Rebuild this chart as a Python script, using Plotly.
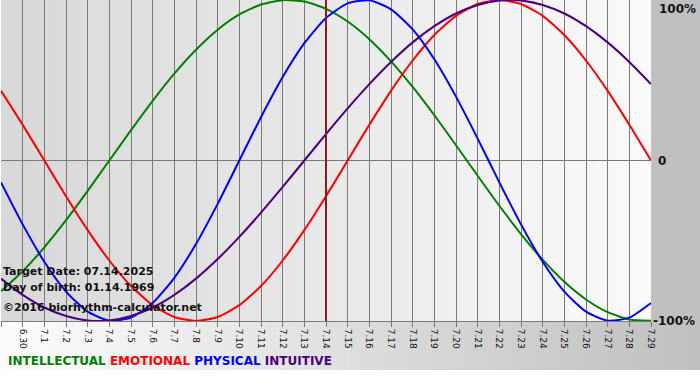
import plotly.graph_objects as go

# ---- data ----
dates = ["6.29", "6.30", "7.1", "7.2", "7.3", "7.4", "7.5", "7.6", "7.7", "7.8", "7.9",
         "7.10", "7.11", "7.12", "7.13", "7.14", "7.15", "7.16", "7.17", "7.18", "7.19",
         "7.20", "7.21", "7.22", "7.23", "7.24", "7.25", "7.26", "7.27", "7.28", "7.29"]

intellectual = [-0.815, -0.690, -0.541, -0.372, -0.189, 0.000, 0.189, 0.372, 0.541, 0.690,
                0.815, 0.910, 0.972, 0.999, 0.990, 0.945, 0.866, 0.756, 0.618, 0.458,
                0.282, 0.095, -0.095, -0.282, -0.458, -0.618, -0.756, -0.866, -0.945,
                -0.990, -0.999]
emotional = [0.434, 0.223, 0.000, -0.223, -0.434, -0.623, -0.782, -0.901, -0.975, -1.000,
             -0.975, -0.901, -0.782, -0.623, -0.434, -0.223, 0.000, 0.223, 0.434, 0.623,
             0.782, 0.901, 0.975, 1.000, 0.975, 0.901, 0.782, 0.623, 0.434, 0.223, 0.000]
physical = [-0.136, -0.398, -0.631, -0.817, -0.942, -0.998, -0.979, -0.888, -0.731, -0.520,
            -0.270, 0.000, 0.270, 0.520, 0.731, 0.888, 0.979, 0.998, 0.942, 0.817, 0.631,
            0.398, 0.136, -0.136, -0.398, -0.631, -0.817, -0.942, -0.998, -0.979, -0.888]
intuitive = [-0.736, -0.837, -0.916, -0.969, -0.997, -0.997, -0.969, -0.916, -0.837, -0.736,
             -0.614, -0.476, -0.325, -0.165, 0.000, 0.165, 0.325, 0.476, 0.614, 0.736,
             0.837, 0.916, 0.969, 0.997, 0.997, 0.969, 0.916, 0.837, 0.736, 0.614, 0.476]

target_label = "7.14"
target_text = "Target Date: 07.14.2025"
birth_text = "Day of birth: 01.14.1969"
copyright_text = "©2016 biorhythm-calculator.net"
y_labels = ["100%", "0", "-100%"]

series = [
    ("INTELLECTUAL", intellectual, "#008000"),
    ("EMOTIONAL", emotional, "#ff0000"),
    ("PHYSICAL", physical, "#0000ff"),
    ("INTUITIVE", intuitive, "#4b0082"),
]

# ---- figure ----
W, H = 700, 380
ML, MR, MT, MB = 1, 49, 0, 59
PW, PH = W - ML - MR, H - MT - MB

x = list(range(len(dates)))
fig = go.Figure()
for name, vals, col in series:
    fig.add_trace(go.Scatter(x=x, y=vals, mode="lines", name=name,
                             line=dict(color=col, width=2, shape="spline", smoothing=0.6),
                             hoverinfo="skip"))


def px2paper_x(px):
    return (px - ML) / PW


def px2paper_y(py):
    return 1 - (py - MT) / PH


def mix(c1, c2, t):
    return "rgb(%d,%d,%d)" % tuple(round(a + (b - a) * t) for a, b in zip(c1, c2))


shapes = []
# plot area gradient
N = 60
for i in range(N):
    t = i / (N - 1)
    shapes.append(dict(type="rect", xref="paper", yref="paper",
                       x0=i / N, x1=(i + 1) / N + 0.002, y0=0, y1=1,
                       fillcolor=mix((216, 216, 216), (250, 250, 250), t),
                       line=dict(width=0), layer="below"))
# bottom strip gradient
for i in range(N):
    t = i / (N - 1)
    x0 = px2paper_x(i * W / N)
    x1 = px2paper_x((i + 1) * W / N + 1)
    shapes.append(dict(type="rect", xref="paper", yref="paper",
                       x0=x0, x1=x1, y0=px2paper_y(370), y1=0,
                       fillcolor=mix((252, 252, 252), (192, 192, 192), t),
                       line=dict(width=0), layer="below"))
# right gray column
shapes.append(dict(type="rect", xref="paper", yref="paper",
                   x0=1, x1=px2paper_x(W + 2), y0=0, y1=1,
                   fillcolor="#c0c0c0", line=dict(width=0), layer="below"))
# target date line
ti = dates.index(target_label)
shapes.append(dict(type="line", xref="x", yref="paper", x0=ti, x1=ti, y0=0, y1=1,
                   line=dict(color="#8b1a1a", width=2), layer="above"))

annotations = []
txt_font = dict(family="DejaVu Sans", size=11, color="#111111")
for txt, py in [(target_text, 271), (birth_text, 287), (copyright_text, 307)]:
    annotations.append(dict(text="<b>%s</b>" % txt, xref="paper", yref="paper",
                            x=px2paper_x(1), y=px2paper_y(py), xanchor="left",
                            yanchor="middle", showarrow=False, font=txt_font))

legend_html = " ".join('<span style="color:%s">%s</span>' % (c, n) for n, _, c in series)
annotations.append(dict(text="<b>%s</b>" % legend_html, xref="paper", yref="paper",
                        x=px2paper_x(6), y=px2paper_y(361), xanchor="left",
                        yanchor="middle", showarrow=False,
                        font=dict(family="DejaVu Sans", size=12)))

for lab, yv, pxx in [(y_labels[0], 1, 657), (y_labels[1], 0, 656), (y_labels[2], -1, 651)]:
    annotations.append(dict(text="<b>%s</b>" % lab, xref="paper", yref="y",
                            x=px2paper_x(pxx), y=yv, xanchor="left",
                            yanchor="top" if yv == 1 else "middle", showarrow=False,
                            font=dict(family="DejaVu Sans", size=12, color="#111111")))

fig.update_layout(
    width=W, height=H,
    margin=dict(l=ML, r=MR, t=MT, b=MB, pad=0),
    paper_bgcolor="#ffffff", plot_bgcolor="rgba(0,0,0,0)",
    showlegend=False,
    shapes=shapes, annotations=annotations,
    xaxis=dict(range=[0, len(dates) - 1], tickmode="array", tickvals=x, ticktext=dates,
               tickangle=90, tickfont=dict(family="DejaVu Sans", size=9, color="#111111"),
               showgrid=True, gridcolor="#7a7a7a", gridwidth=1,
               showline=True, linecolor="#7a7a7a", linewidth=1,
               ticks="outside", ticklen=5, tickcolor="#7a7a7a", zeroline=False,
               fixedrange=True),
    yaxis=dict(range=[-1.0, 1.0], showgrid=False, showticklabels=False,
               zeroline=True, zerolinecolor="#7a7a7a", zerolinewidth=1,
               ticks="", fixedrange=True),
)

fig.write_html("out.html", config={"displayModeBar": False, "staticPlot": True},
               post_script="document.body.style.margin='0';"
                           "document.body.style.overflow='hidden';")
